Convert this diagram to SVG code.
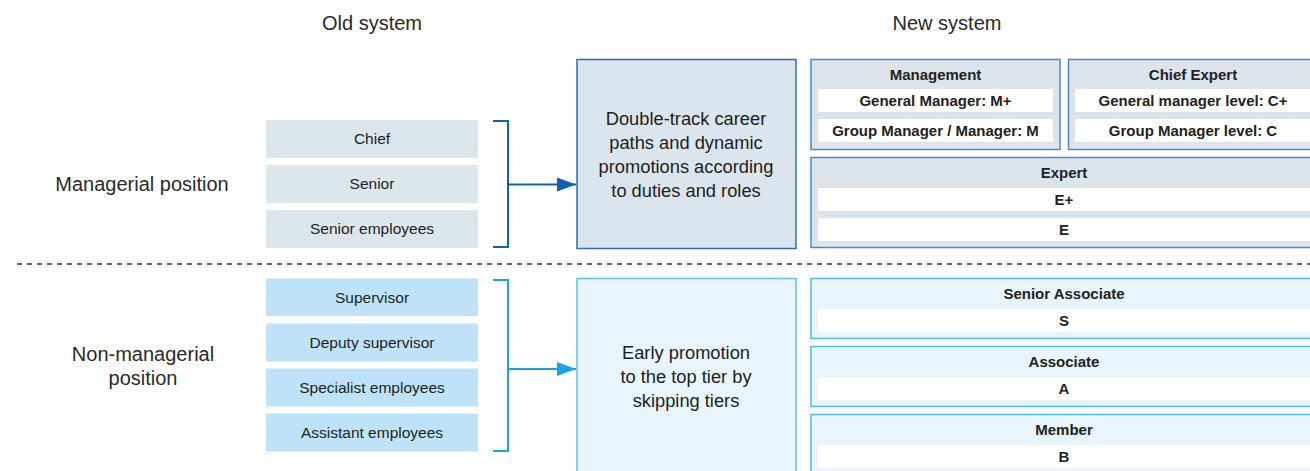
<svg xmlns="http://www.w3.org/2000/svg" width="1310" height="471" viewBox="0 0 1310 471">
<style>
text{font-family:"Liberation Sans",Arial,sans-serif;fill:#1e1e1e;text-anchor:middle}
.hdr{font-size:20px;fill:#2a2a2a}
.side{font-size:20px;fill:#2a2a2a}
.old{font-size:15.5px}
.big{font-size:18.3px}
.b{font-size:15px;font-weight:bold;fill:#222}
.oldTop{fill:#dce6ed}
.oldBot{fill:#bee3f8}
.bigTop{fill:#dbe5ed;stroke:#2f6db5;stroke-width:1.5}
.bigBot{fill:#e8f5fd;stroke:#5cc0f0;stroke-width:1.5}
.newTop{fill:#dce5ec;stroke:#4f88c9;stroke-width:1.5}
.newBot{fill:#e8f5fd;stroke:#52baef;stroke-width:1.5}
.row{fill:#ffffff}
.brTop{fill:none;stroke:#1160b2;stroke-width:2}
.brBot{fill:none;stroke:#1ca2e8;stroke-width:2}
</style>
<defs>
<marker id="ahTop" markerWidth="19" markerHeight="14" refX="19" refY="7" orient="auto" markerUnits="userSpaceOnUse"><path d="M0,0 L19,7 L0,14 Z" fill="#1160b2"/></marker>
<marker id="ahBot" markerWidth="19" markerHeight="14" refX="19" refY="7" orient="auto" markerUnits="userSpaceOnUse"><path d="M0,0 L19,7 L0,14 Z" fill="#1ca2e8"/></marker>
</defs>

<g id="headers">
<text class="hdr" x="372" y="30">Old system</text>
<text class="hdr" x="947" y="30">New system</text>
</g>

<g id="side-labels">
<text class="side" x="142" y="191">Managerial position</text>
<text class="side" x="143" y="361">Non-managerial</text>
<text class="side" x="143" y="385">position</text>
</g>

<line id="divider" x1="17" y1="264" x2="1310" y2="264" stroke="#333" stroke-width="1.6" stroke-dasharray="5 5"/>

<g id="old-chief"><rect class="oldTop" x="266" y="120" width="212" height="38"/><text class="old" x="372" y="144">Chief</text></g>
<g id="old-senior"><rect class="oldTop" x="266" y="165" width="212" height="38"/><text class="old" x="372" y="189">Senior</text></g>
<g id="old-senior-employees"><rect class="oldTop" x="266" y="210" width="212" height="38"/><text class="old" x="372" y="234">Senior employees</text></g>

<g id="old-supervisor"><rect class="oldBot" x="266" y="278.5" width="212" height="37.5"/><text class="old" x="372" y="302.5">Supervisor</text></g>
<g id="old-deputy"><rect class="oldBot" x="266" y="323.5" width="212" height="38"/><text class="old" x="372" y="348">Deputy supervisor</text></g>
<g id="old-specialist"><rect class="oldBot" x="266" y="368.5" width="212" height="38"/><text class="old" x="372" y="393">Specialist employees</text></g>
<g id="old-assistant"><rect class="oldBot" x="266" y="413.5" width="212" height="38"/><text class="old" x="372" y="438">Assistant employees</text></g>

<g id="connectors">
<path class="brTop" d="M493,121 H508 V247 H493"/>
<path class="brTop" d="M508,184.5 H576" marker-end="url(#ahTop)"/>
<path class="brBot" d="M493,280 H508 V451 H493"/>
<path class="brBot" d="M508,369 H576" marker-end="url(#ahBot)"/>
</g>

<g id="double-track">
<rect class="bigTop" x="577" y="59.5" width="219" height="189"/>
<text class="big" x="686" y="125">Double-track career</text>
<text class="big" x="686" y="149">paths and dynamic</text>
<text class="big" x="686" y="173">promotions according</text>
<text class="big" x="686" y="197">to duties and roles</text>
</g>

<g id="early-promotion">
<rect class="bigBot" x="577" y="278.5" width="219" height="200"/>
<text class="big" x="686" y="359">Early promotion</text>
<text class="big" x="686" y="383">to the top tier by</text>
<text class="big" x="686" y="407">skipping tiers</text>
</g>

<g id="management">
<rect class="newTop" x="811" y="59.5" width="249" height="90"/>
<text class="b" x="935.5" y="80">Management</text>
<rect class="row" x="818" y="89" width="235" height="23"/>
<text class="b" x="935.5" y="105.5">General Manager: M+</text>
<rect class="row" x="818" y="119" width="235" height="23"/>
<text class="b" x="935.5" y="135.5">Group Manager / Manager: M</text>
</g>

<g id="chief-expert">
<rect class="newTop" x="1068.5" y="59.5" width="250" height="90"/>
<text class="b" x="1193" y="80">Chief Expert</text>
<rect class="row" x="1075" y="89" width="245" height="23"/>
<text class="b" x="1193" y="105.5">General manager level: C+</text>
<rect class="row" x="1075" y="119" width="245" height="23"/>
<text class="b" x="1193" y="135.5">Group Manager level: C</text>
</g>

<g id="expert">
<rect class="newTop" x="811" y="157.5" width="508" height="90"/>
<text class="b" x="1064" y="177.5">Expert</text>
<rect class="row" x="818" y="188" width="502" height="23"/>
<text class="b" x="1064" y="204.5">E+</text>
<rect class="row" x="818" y="218" width="502" height="23"/>
<text class="b" x="1064" y="234.5">E</text>
</g>

<g id="senior-associate">
<rect class="newBot" x="811" y="278.5" width="508" height="60"/>
<text class="b" x="1064" y="298.5">Senior Associate</text>
<rect class="row" x="818" y="309" width="502" height="23"/>
<text class="b" x="1064" y="325.5">S</text>
</g>

<g id="associate">
<rect class="newBot" x="811" y="346.5" width="508" height="60"/>
<text class="b" x="1064" y="366.5">Associate</text>
<rect class="row" x="818" y="377" width="502" height="23"/>
<text class="b" x="1064" y="393.5">A</text>
</g>

<g id="member">
<rect class="newBot" x="811" y="414.5" width="508" height="70"/>
<text class="b" x="1064" y="435">Member</text>
<rect class="row" x="818" y="445" width="502" height="23"/>
<text class="b" x="1064" y="461.5">B</text>
</g>
</svg>
